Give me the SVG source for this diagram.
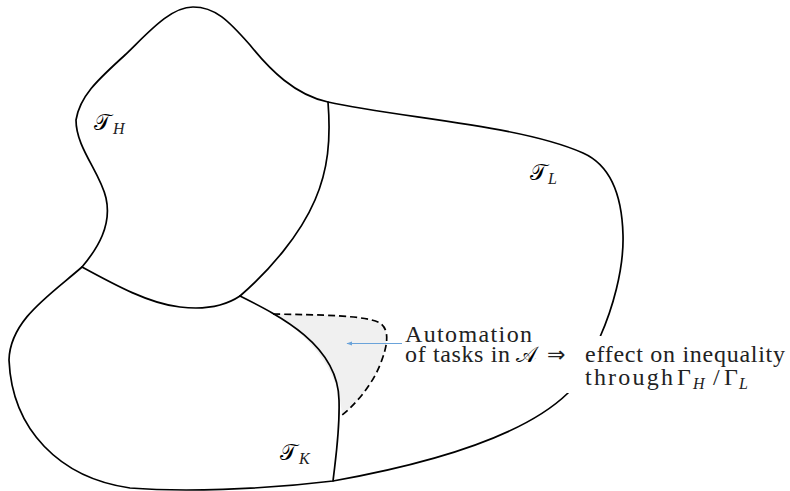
<svg xmlns="http://www.w3.org/2000/svg" width="790" height="491" viewBox="0 0 790 491">
<style>
.ln{fill:none;stroke:#000;stroke-width:1.7;stroke-linejoin:round;stroke-linecap:round}
.dash{fill:none;stroke:#000;stroke-width:1.7;stroke-dasharray:7 4}
.txt{font-family:'Liberation Serif','Times New Roman',serif;font-size:24px;fill:#222}
.cal{font-family:'DejaVu Serif','DejaVu Sans','Noto Sans',serif;font-size:22px;fill:#000}
.sub{font-family:'Liberation Serif','Times New Roman',serif;font-style:italic;font-size:16px;fill:#222}
</style>
<defs>
<marker id="ah" viewBox="0 0 10 10" refX="9" refY="5" markerWidth="6" markerHeight="6" orient="auto">
<path d="M0,1.5 L10,5 L0,8.5 Z" fill="#6aa3da"/>
</marker>
</defs>
<g id="regionA">
<path d="M273 314 C320 315,365 315,380 323 C390 330,388 345,380 365 C372 385,355 405,342 415 C340 378,318 340,273 314 Z" fill="#f0f0f0" stroke="none"/>
<path class="dash" d="M273 314 C320 315,365 315,380 323 C390 330,388 345,380 365 C372 385,355 405,342 415"/>
</g>
<g id="connectors">
<path id="outer" class="ln" d="M193 7 C215 7,228 20,250 45 C270 70,295 95,328 102 C400 118,520 125,583 153 C610 165,622 195,623 235 C624 270,612 310,600 337 C590 360,580 380,568 393 C530 430,450 460,333 481 C260 490,180 492,130 488 C60 478,12 430,9 360 C10 320,50 295,82 267 C98 248,112 225,106 198 C100 172,76 148,76 120 C80 95,100 78,125 55 C148 33,170 7,193 7 Z"/>
<path id="HL" class="ln" d="M328 102 C331 140,328 170,315 200 C300 235,270 270,240 296"/>
<path id="HK" class="ln" d="M240 296 C225 306,205 310,180 307 C150 304,115 285,82 267"/>
<path id="KL" class="ln" d="M240 296 C280 316,338 345,339 400 C340 430,336 455,333 481"/>
<line x1="402" y1="343.5" x2="347" y2="343.5" stroke="#6aa3da" stroke-width="1" marker-end="url(#ah)"/>
</g>
<g id="TH">
<text class="cal" x="94" y="130">𝒯</text>
<text class="sub" x="113" y="134">H</text>
</g>
<g id="TL">
<text class="cal" x="530" y="180">𝒯</text>
<text class="sub" x="548" y="184">L</text>
</g>
<g id="TK">
<text class="cal" x="280" y="460">𝒯</text>
<text class="sub" x="299" y="464">K</text>
</g>
<g id="label">
<rect x="566" y="336" width="224" height="57" fill="#fff"/>
<text class="txt" x="405" y="342" textLength="127" lengthAdjust="spacing">Automation</text>
<text class="txt" x="405" y="362" textLength="105" lengthAdjust="spacing">of tasks in</text>
<text class="cal" x="516" y="362" font-size="24">𝒜</text>
<text x="547" y="362" style="font-family:'DejaVu Sans',sans-serif;font-size:22px;fill:#222">⇒</text>
<text class="txt" x="585" y="362" textLength="200" lengthAdjust="spacing">effect on inequality</text>
<text class="txt" x="585" y="385" textLength="88" lengthAdjust="spacing">through</text>
<text class="txt" x="677" y="385">Γ</text>
<text class="sub" x="693" y="389">H</text>
<text class="txt" x="713" y="385">/</text>
<text class="txt" x="724" y="385">Γ</text>
<text class="sub" x="739" y="389">L</text>
</g>
</svg>
